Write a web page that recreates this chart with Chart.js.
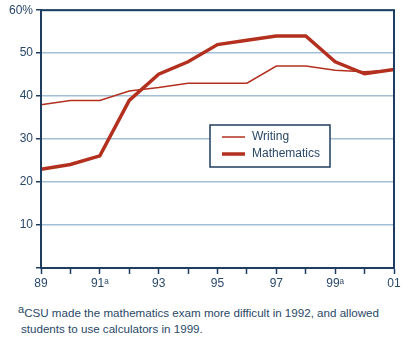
<!DOCTYPE html>
<html>
<head>
<meta charset="utf-8">
<script src="https://cdn.jsdelivr.net/npm/chart.js@4.4.1/dist/chart.umd.min.js"></script>
<style>
  body { margin: 0; background: #fff; }
  #wrap { position: relative; width: 419px; height: 300px; }
  #note {
    position: absolute; left: 18px; top: 305px; width: 400px;
    font: 11.6px "Liberation Sans", Arial, sans-serif; color: #2a4868; line-height: 16px;
  }
  #note sup { font-size: 11px; vertical-align: 4px; line-height: 0; }
  #note .l2 { padding-left: 3px; }
</style>
</head>
<body>
<div id="wrap"><canvas id="lineChart" width="419" height="300"></canvas></div>
<div id="note"><sup>a</sup>CSU made the mathematics exam more difficult in 1992, and allowed<br><span class="l2">students to use calculators in 1999.</span></div>
<script>
// data
var years = ["89", "90", "91", "92", "93", "94", "95", "96", "97", "98", "99", "00", "01"];
var xTickLabels = ["89", "", "91ᵃ", "", "93", "", "95", "", "97", "", "99ᵃ", "", "01"];
var writing = [38, 39, 39, 41.2, 42, 43, 43, 43, 47, 47, 46, 45.7, 46.1];
var mathematics = [23, 24.1, 26.1, 39, 45.1, 48, 52, 53, 54, 54, 48, 45.2, 46.2];
var yTicks = [0, 10, 20, 30, 40, 50, 60];

var navy = "#1f3d60";
var textCol = "#2a4868";
var red = "#b3301f";
var gridBlue = "#a3bfd6";

// frame + legend box inside plot
var framePlugin = {
  id: "frame",
  afterDraw: function (chart) {
    var c = chart.ctx, a = chart.chartArea;
    c.save();
    c.strokeStyle = navy;
    c.lineWidth = 2;
    c.strokeRect(a.left, a.top, a.right - a.left, a.bottom - a.top);

    // legend
    var bx = 210, by = 125, bw = 120, bh = 42;
    c.fillStyle = "#fff";
    c.fillRect(bx, by, bw, bh);
    c.lineWidth = 1.5;
    c.strokeRect(bx, by, bw, bh);
    c.font = "12px 'Liberation Sans', Arial, sans-serif";
    c.textBaseline = "middle";
    chart.data.datasets.forEach(function (ds, i) {
      var yy = by + 12 + i * 17;
      c.strokeStyle = ds.borderColor;
      c.lineWidth = ds.borderWidth;
      c.beginPath();
      c.moveTo(bx + 12, yy);
      c.lineTo(bx + 35, yy);
      c.stroke();
      c.fillStyle = textCol;
      c.fillText(ds.label, bx + 42, yy);
    });
    c.restore();
  }
};

var ctx = document.getElementById("lineChart").getContext("2d");
var lineChart = new Chart(ctx, {
  type: "line",
  data: {
    labels: years,
    datasets: [
      {
        label: "Writing",
        data: writing,
        borderColor: red,
        borderWidth: 1.5,
        pointRadius: 0,
        tension: 0
      },
      {
        label: "Mathematics",
        data: mathematics,
        borderColor: red,
        borderWidth: 3.5,
        pointRadius: 0,
        tension: 0
      }
    ]
  },
  options: {
    responsive: false,
    animation: false,
    layout: { padding: { top: 10, right: 25, left: 0, bottom: 0 } },
    plugins: {
      legend: { display: false },
      tooltip: { enabled: false }
    },
    scales: {
      x: {
        offset: false,
        afterFit: function (s) { s.height = 32; },
        grid: { drawOnChartArea: false, drawTicks: true, tickLength: 6, tickColor: navy, tickWidth: 1.5 },
        border: { color: navy, width: 2 },
        ticks: {
          autoSkip: false,
          maxRotation: 0,
          padding: 2,
          color: textCol,
          font: { family: "'Liberation Sans', Arial, sans-serif", size: 12 },
          callback: function (v, i) { return xTickLabels[i]; }
        }
      },
      y: {
        min: 0,
        max: 60,
        afterFit: function (s) { s.width = 41; },
        afterBuildTicks: function (s) { s.ticks = yTicks.map(function (v) { return { value: v }; }); },
        grid: { color: gridBlue, lineWidth: 1.5, drawTicks: true, tickLength: 5, tickColor: navy },
        border: { color: navy, width: 2 },
        ticks: {
          padding: 3,
          color: textCol,
          font: { family: "'Liberation Sans', Arial, sans-serif", size: 12 },
          callback: function (v) { return v === 0 ? "" : (v === 60 ? "60%" : v); }
        }
      }
    }
  },
  plugins: [framePlugin]
});
</script>
</body>
</html>
